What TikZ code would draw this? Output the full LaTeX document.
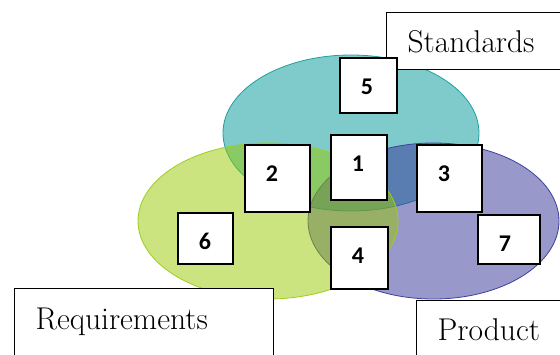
\documentclass[tikz,border=0pt]{standalone}
\usepackage{fontspec}
\newfontfamily\digitfont{Carlito}
\definecolor{tealc}{RGB}{0,151,151}
\definecolor{limec}{RGB}{151,201,0}
\definecolor{bluec}{RGB}{51,49,151}
\definecolor{tealline}{RGB}{30,160,160}
\definecolor{limeline}{RGB}{160,205,30}
\definecolor{blueline}{RGB}{64,64,160}
\begin{document}
\begin{tikzpicture}[x=1pt,y=-1pt,
  setfill/.style={fill opacity=0.5, line width=0.8pt},
  numbox/.style={draw=black, fill=white, line width=1.5pt, anchor=north west,
    inner xsep=21pt, inner ysep=0pt, align=left, text height=36.5pt,
    font=\digitfont\bfseries\fontsize{24}{24}\selectfont},
  labbox/.style={draw=black, fill=white, line width=1.2pt, anchor=north west,
    inner xsep=21pt, inner ysep=0pt, align=left,
    font=\rmfamily\addfontfeatures{FakeBold=0.4}\fontsize{31.5}{38}\selectfont}]
\clip (0,0) rectangle (560,354);
% sets
\draw[setfill, fill=tealc, draw=tealline] (351,133) ellipse [x radius=128pt, y radius=78pt];
\draw[setfill, fill=bluec, draw=blueline] (433.5,221) ellipse [x radius=125.5pt, y radius=78pt];
\draw[setfill, fill=limec, draw=limeline] (268,221) ellipse [x radius=130pt, y radius=78pt];
% label boxes
\node[labbox, text width=158pt, text height=40pt, text depth=17pt] (std) at (386,12) {Standards};
\node[labbox, text width=217pt, text height=41pt, text depth=40pt] (req) at (14,288) {Requirements};
\node[labbox, text width=158pt, text height=40pt, text depth=30pt] (prod) at (416,300) {Product};
% numbered boxes
\node[numbox, text width=15pt, text depth=18.5pt] (b5) at (339,57) {5};
\node[numbox, text width=14pt, text depth=28.5pt] (b1) at (330,134) {1};
\node[numbox, text width=23pt, text depth=30.5pt] (b2) at (244,144) {2};
\node[numbox, text width=23pt, text depth=30.5pt] (b3) at (416,144) {3};
\node[numbox, text width=20pt, text depth=12.5pt] (b7) at (477,214) {7};
\node[numbox, text width=15pt, text depth=25.5pt] (b4) at (330,226) {4};
\node[numbox, text width=13pt, text depth=14.5pt] (b6) at (177,212) {6};
\end{tikzpicture}
\end{document}
